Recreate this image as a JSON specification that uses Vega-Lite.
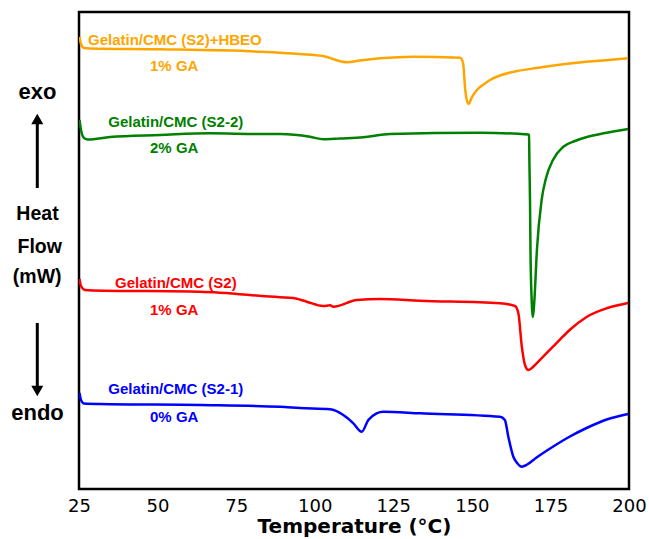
{
  "$schema": "https://vega.github.io/schema/vega-lite/v6.json",
  "width": 550,
  "height": 477,
  "autosize": {"type": "none"},
  "padding": {"left": 79, "top": 12, "right": 20, "bottom": 50},
  "background": "white",
  "config": {"view": {"stroke": "black", "strokeWidth": 2.5}},
  "datasets": {
    "curves": [
      {"s": "S2+HBEO", "T": 25.16, "hf": 452}, {"s": "S2+HBEO", "T": 25.64, "hf": 445}, {"s": "S2+HBEO", "T": 26.59, "hf": 441}, {"s": "S2+HBEO", "T": 28.5, "hf": 440.5}, {"s": "S2+HBEO", "T": 50.77, "hf": 439.7}, {"s": "S2+HBEO", "T": 82.59, "hf": 437.3}, {"s": "S2+HBEO", "T": 95.32, "hf": 435}, {"s": "S2+HBEO", "T": 102.6, "hf": 433}, {"s": "S2+HBEO", "T": 110.3, "hf": 426.7}, {"s": "S2+HBEO", "T": 114.4, "hf": 428.5}, {"s": "S2+HBEO", "T": 120.8, "hf": 430.7}, {"s": "S2+HBEO", "T": 131.3, "hf": 432.3}, {"s": "S2+HBEO", "T": 146.3, "hf": 431.3}, {"s": "S2+HBEO", "T": 147.2, "hf": 426}, {"s": "S2+HBEO", "T": 147.9, "hf": 399}, {"s": "S2+HBEO", "T": 148.9, "hf": 385}, {"s": "S2+HBEO", "T": 150.05, "hf": 392}, {"s": "S2+HBEO", "T": 151.6, "hf": 399}, {"s": "S2+HBEO", "T": 153.5, "hf": 404}, {"s": "S2+HBEO", "T": 155.8, "hf": 409}, {"s": "S2+HBEO", "T": 158.95, "hf": 413.5}, {"s": "S2+HBEO", "T": 163.7, "hf": 417.5}, {"s": "S2+HBEO", "T": 170.7, "hf": 421}, {"s": "S2+HBEO", "T": 181.2, "hf": 425.5}, {"s": "S2+HBEO", "T": 191.7, "hf": 428.5}, {"s": "S2+HBEO", "T": 199.7, "hf": 430.7},
      {"s": "S2-2", "T": 25.16, "hf": 369}, {"s": "S2-2", "T": 25.64, "hf": 359}, {"s": "S2-2", "T": 26.59, "hf": 351}, {"s": "S2-2", "T": 27.86, "hf": 349.5}, {"s": "S2-2", "T": 34.86, "hf": 352}, {"s": "S2-2", "T": 50.77, "hf": 354}, {"s": "S2-2", "T": 66.68, "hf": 355.7}, {"s": "S2-2", "T": 82.59, "hf": 355}, {"s": "S2-2", "T": 88.95, "hf": 355}, {"s": "S2-2", "T": 98.5, "hf": 352.3}, {"s": "S2-2", "T": 102.7, "hf": 349.7}, {"s": "S2-2", "T": 108.0, "hf": 350.5}, {"s": "S2-2", "T": 115.4, "hf": 351.7}, {"s": "S2-2", "T": 123.95, "hf": 355}, {"s": "S2-2", "T": 152.6, "hf": 356.3}, {"s": "S2-2", "T": 167.9, "hf": 354.5}, {"s": "S2-2", "T": 168.2, "hf": 354}, {"s": "S2-2", "T": 168.3, "hf": 329}, {"s": "S2-2", "T": 168.5, "hf": 289}, {"s": "S2-2", "T": 168.65, "hf": 239}, {"s": "S2-2", "T": 168.97, "hf": 194}, {"s": "S2-2", "T": 169.45, "hf": 172}, {"s": "S2-2", "T": 169.9, "hf": 189}, {"s": "S2-2", "T": 170.7, "hf": 239}, {"s": "S2-2", "T": 172.2, "hf": 289}, {"s": "S2-2", "T": 173.6, "hf": 311}, {"s": "S2-2", "T": 175.8, "hf": 329}, {"s": "S2-2", "T": 179.0, "hf": 342}, {"s": "S2-2", "T": 182.8, "hf": 348}, {"s": "S2-2", "T": 186.6, "hf": 352}, {"s": "S2-2", "T": 192.4, "hf": 356}, {"s": "S2-2", "T": 199.7, "hf": 360},
      {"s": "S2", "T": 25.16, "hf": 210}, {"s": "S2", "T": 25.64, "hf": 203}, {"s": "S2", "T": 26.91, "hf": 199}, {"s": "S2", "T": 29.45, "hf": 198.5}, {"s": "S2", "T": 63.5, "hf": 197.3}, {"s": "S2", "T": 88.95, "hf": 191.7}, {"s": "S2", "T": 93.1, "hf": 191}, {"s": "S2", "T": 97.45, "hf": 187.3}, {"s": "S2", "T": 102.7, "hf": 183}, {"s": "S2", "T": 104.9, "hf": 183.7}, {"s": "S2", "T": 105.9, "hf": 182.3}, {"s": "S2", "T": 113.4, "hf": 189}, {"s": "S2", "T": 120.8, "hf": 190}, {"s": "S2", "T": 133.5, "hf": 188.3}, {"s": "S2", "T": 158.95, "hf": 185.7}, {"s": "S2", "T": 163.7, "hf": 183}, {"s": "S2", "T": 164.8, "hf": 175.7}, {"s": "S2", "T": 165.9, "hf": 142.3}, {"s": "S2", "T": 166.9, "hf": 124}, {"s": "S2", "T": 168.0, "hf": 119}, {"s": "S2", "T": 169.1, "hf": 121}, {"s": "S2", "T": 170.6, "hf": 125.7}, {"s": "S2", "T": 173.3, "hf": 134.3}, {"s": "S2", "T": 175.9, "hf": 142.6}, {"s": "S2", "T": 178.4, "hf": 150.6}, {"s": "S2", "T": 181.2, "hf": 159.2}, {"s": "S2", "T": 186.5, "hf": 172}, {"s": "S2", "T": 192.9, "hf": 180.7}, {"s": "S2", "T": 199.7, "hf": 186},
      {"s": "S2-1", "T": 25.16, "hf": 96}, {"s": "S2-1", "T": 25.64, "hf": 89}, {"s": "S2-1", "T": 26.59, "hf": 85.5}, {"s": "S2-1", "T": 31.68, "hf": 85}, {"s": "S2-1", "T": 63.5, "hf": 84}, {"s": "S2-1", "T": 88.95, "hf": 82.3}, {"s": "S2-1", "T": 95.3, "hf": 81}, {"s": "S2-1", "T": 104.9, "hf": 79.7}, {"s": "S2-1", "T": 109.1, "hf": 74}, {"s": "S2-1", "T": 112.3, "hf": 65.7}, {"s": "S2-1", "T": 114.95, "hf": 57.3}, {"s": "S2-1", "T": 117.05, "hf": 69}, {"s": "S2-1", "T": 119.7, "hf": 75.7}, {"s": "S2-1", "T": 121.8, "hf": 77.3}, {"s": "S2-1", "T": 133.5, "hf": 75.7}, {"s": "S2-1", "T": 158.95, "hf": 72.3}, {"s": "S2-1", "T": 160.5, "hf": 69}, {"s": "S2-1", "T": 161.6, "hf": 52.3}, {"s": "S2-1", "T": 163.2, "hf": 32.3}, {"s": "S2-1", "T": 164.4, "hf": 26}, {"s": "S2-1", "T": 165.9, "hf": 22.3}, {"s": "S2-1", "T": 167.6, "hf": 24.5}, {"s": "S2-1", "T": 170.6, "hf": 31.5}, {"s": "S2-1", "T": 175.9, "hf": 42.5}, {"s": "S2-1", "T": 181.2, "hf": 52.5}, {"s": "S2-1", "T": 186.5, "hf": 61}, {"s": "S2-1", "T": 192.9, "hf": 69.5}, {"s": "S2-1", "T": 199.7, "hf": 75}
    ],
    "labels": [
      {"s": "S2+HBEO", "T": 27.86, "hf": 444, "text": "Gelatin/CMC (S2)+HBEO"},
      {"s": "S2+HBEO", "T": 47.6, "hf": 418.5, "text": "1% GA"},
      {"s": "S2-2", "T": 34.3, "hf": 362.5, "text": "Gelatin/CMC (S2-2)"},
      {"s": "S2-2", "T": 47.6, "hf": 336.3, "text": "2% GA"},
      {"s": "S2", "T": 36.45, "hf": 200.7, "text": "Gelatin/CMC (S2)"},
      {"s": "S2", "T": 47.6, "hf": 174, "text": "1% GA"},
      {"s": "S2-1", "T": 34.3, "hf": 94.7, "text": "Gelatin/CMC (S2-1)"},
      {"s": "S2-1", "T": 47.6, "hf": 67.3, "text": "0% GA"}
    ],
    "bigwords": [
      {"T": 11.8, "hf": 390, "text": "exo"},
      {"T": 11.8, "hf": 69.5, "text": "endo"}
    ],
    "axiswords": [
      {"T": 11.8, "hf": 269, "text": "Heat"},
      {"T": 12.5, "hf": 236.5, "text": "Flow"},
      {"T": 11.7, "hf": 206, "text": "(mW)"}
    ],
    "shafts": [
      {"T": 11.73, "hf": 301, "hf2": 370},
      {"T": 11.73, "hf": 166, "hf2": 98}
    ],
    "heads": [
      {"T": 11.73, "hf": 370, "dir": "up"},
      {"T": 11.73, "hf": 98, "dir": "down"}
    ]
  },
  "layer": [
    {
      "data": {"name": "curves"},
      "mark": {"type": "line", "strokeWidth": 2.5, "interpolate": "monotone", "clip": true},
      "encoding": {
        "x": {"field": "T", "type": "quantitative", "scale": {"domain": [25, 200], "nice": false, "zero": false},
          "axis": {"values": [25, 50, 75, 100, 125, 150, 175, 200], "domain": false, "ticks": false, "grid": false, "labelFlush": false,
            "labelFont": "DejaVu Sans", "labelFontSize": 18, "labelColor": "black", "labelPadding": 8,
            "title": "Temperature (°C)", "titleFont": "DejaVu Sans", "titleFontSize": 20, "titleFontWeight": "bold", "titleColor": "black", "titlePadding": 1}},
        "y": {"field": "hf", "type": "quantitative", "scale": {"domain": [0, 477], "nice": false, "zero": false}, "axis": null},
        "color": {"field": "s", "type": "nominal", "scale": {"domain": ["S2+HBEO", "S2-2", "S2", "S2-1"], "range": ["#FFA500", "#008000", "#FF0000", "#0000FF"]}, "legend": null},
        "detail": {"field": "s"},
        "order": {"field": "T", "type": "quantitative"}
      }
    },
    {
      "data": {"name": "labels"},
      "mark": {"type": "text", "font": "Liberation Sans", "fontWeight": "bold", "fontSize": 15, "align": "left", "baseline": "alphabetic"},
      "encoding": {
        "x": {"field": "T", "type": "quantitative"},
        "y": {"field": "hf", "type": "quantitative"},
        "text": {"field": "text"},
        "color": {"field": "s", "type": "nominal", "legend": null}
      }
    },
    {
      "data": {"name": "bigwords"},
      "mark": {"type": "text", "font": "Liberation Sans", "fontWeight": "bold", "fontSize": 22, "align": "center", "baseline": "alphabetic", "color": "black"},
      "encoding": {
        "x": {"field": "T", "type": "quantitative"},
        "y": {"field": "hf", "type": "quantitative"},
        "text": {"field": "text"}
      }
    },
    {
      "data": {"name": "axiswords"},
      "mark": {"type": "text", "font": "Liberation Sans", "fontWeight": "bold", "fontSize": 19.5, "align": "center", "baseline": "alphabetic", "color": "black"},
      "encoding": {
        "x": {"field": "T", "type": "quantitative"},
        "y": {"field": "hf", "type": "quantitative"},
        "text": {"field": "text"}
      }
    },
    {
      "data": {"name": "shafts"},
      "mark": {"type": "rule", "strokeWidth": 3, "color": "black"},
      "encoding": {
        "x": {"field": "T", "type": "quantitative"},
        "y": {"field": "hf", "type": "quantitative"},
        "y2": {"field": "hf2"}
      }
    },
    {
      "data": {"name": "heads"},
      "mark": {"type": "point", "filled": true, "size": 144, "color": "black", "opacity": 1},
      "encoding": {
        "x": {"field": "T", "type": "quantitative"},
        "y": {"field": "hf", "type": "quantitative"},
        "shape": {"field": "dir", "type": "nominal", "scale": {"domain": ["up", "down"], "range": ["triangle-up", "triangle-down"]}, "legend": null}
      }
    }
  ]
}
